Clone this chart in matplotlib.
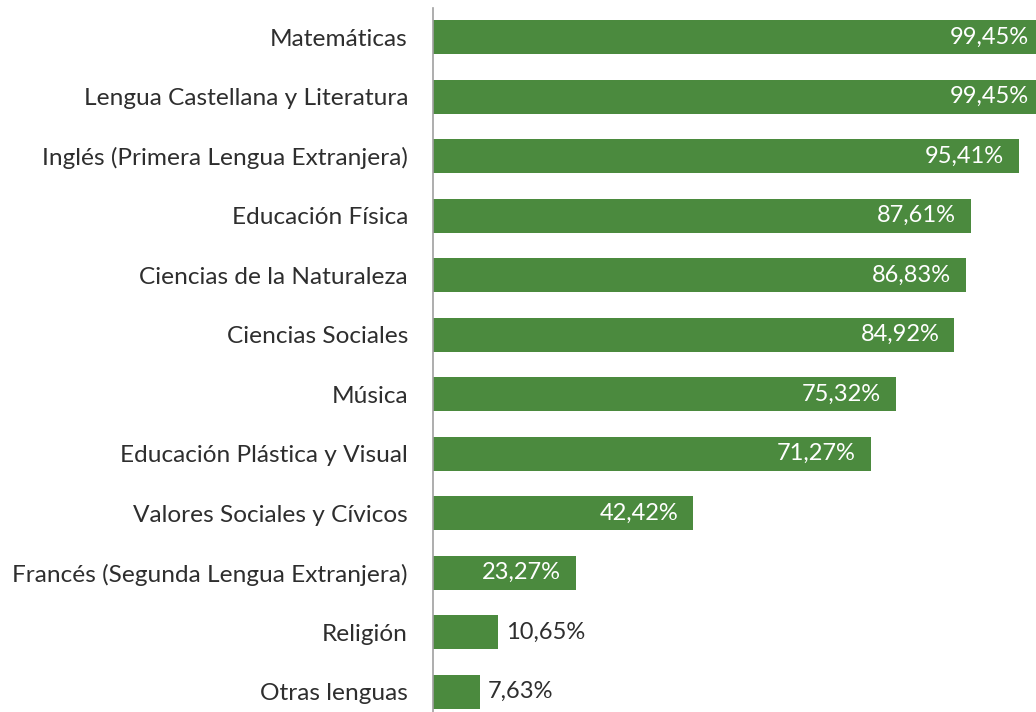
import matplotlib
matplotlib.use('Agg')
import matplotlib.pyplot as plt

asignaturas = ['Matemáticas', 'Lengua Castellana y Literatura',
               'Inglés (Primera Lengua Extranjera)', 'Educación Física',
               'Ciencias de la Naturaleza', 'Ciencias Sociales', 'Música',
               'Educación Plástica y Visual', 'Valores Sociales y Cívicos',
               'Francés (Segunda Lengua Extranjera)', 'Religión', 'Otras lenguas']
porcentajes = [99.45, 99.45, 95.41, 87.61, 86.83, 84.92, 75.32, 71.27,
               42.42, 23.27, 10.65, 7.63]

verde = '#4b8a3e'
gris = '#2e2e2e'
plt.rcParams['font.family'] = ['Lato', 'DejaVu Sans']


def main():
    fig = plt.figure(figsize=(10.36, 7.12), dpi=100)
    ax = fig.add_axes([433 / 1036, 0, 603 / 1036, 1 - 8 / 712])
    xmax = 98.2
    ys = list(range(len(asignaturas)))
    ax.barh(ys, porcentajes, height=0.57, color=verde)

    for y, v in zip(ys, porcentajes):
        txt = f'{v:.2f}%'.replace('.', ',')
        if v > 20:
            ax.text(min(v, xmax + 1.5) - 2.4, y, txt, color='white',
                    ha='right', va='center', fontsize=17)
        else:
            ax.text(v + 1.3, y, txt, color=gris,
                    ha='left', va='center', fontsize=17)

    ax.set_xlim(0, xmax)
    ax.set_ylim(11.34, -0.49)
    ax.set_yticks(ys)
    ax.set_yticklabels(asignaturas, fontsize=17.6, color=gris)
    ax.tick_params(axis='y', length=0, pad=18)
    ax.set_xticks([])
    for s in ['top', 'right', 'bottom']:
        ax.spines[s].set_visible(False)
    ax.spines['left'].set_color('#a0a0a0')
    ax.spines['left'].set_linewidth(1.2)

    plt.savefig('out.png', dpi=100)


if __name__ == "__main__":
    main()
